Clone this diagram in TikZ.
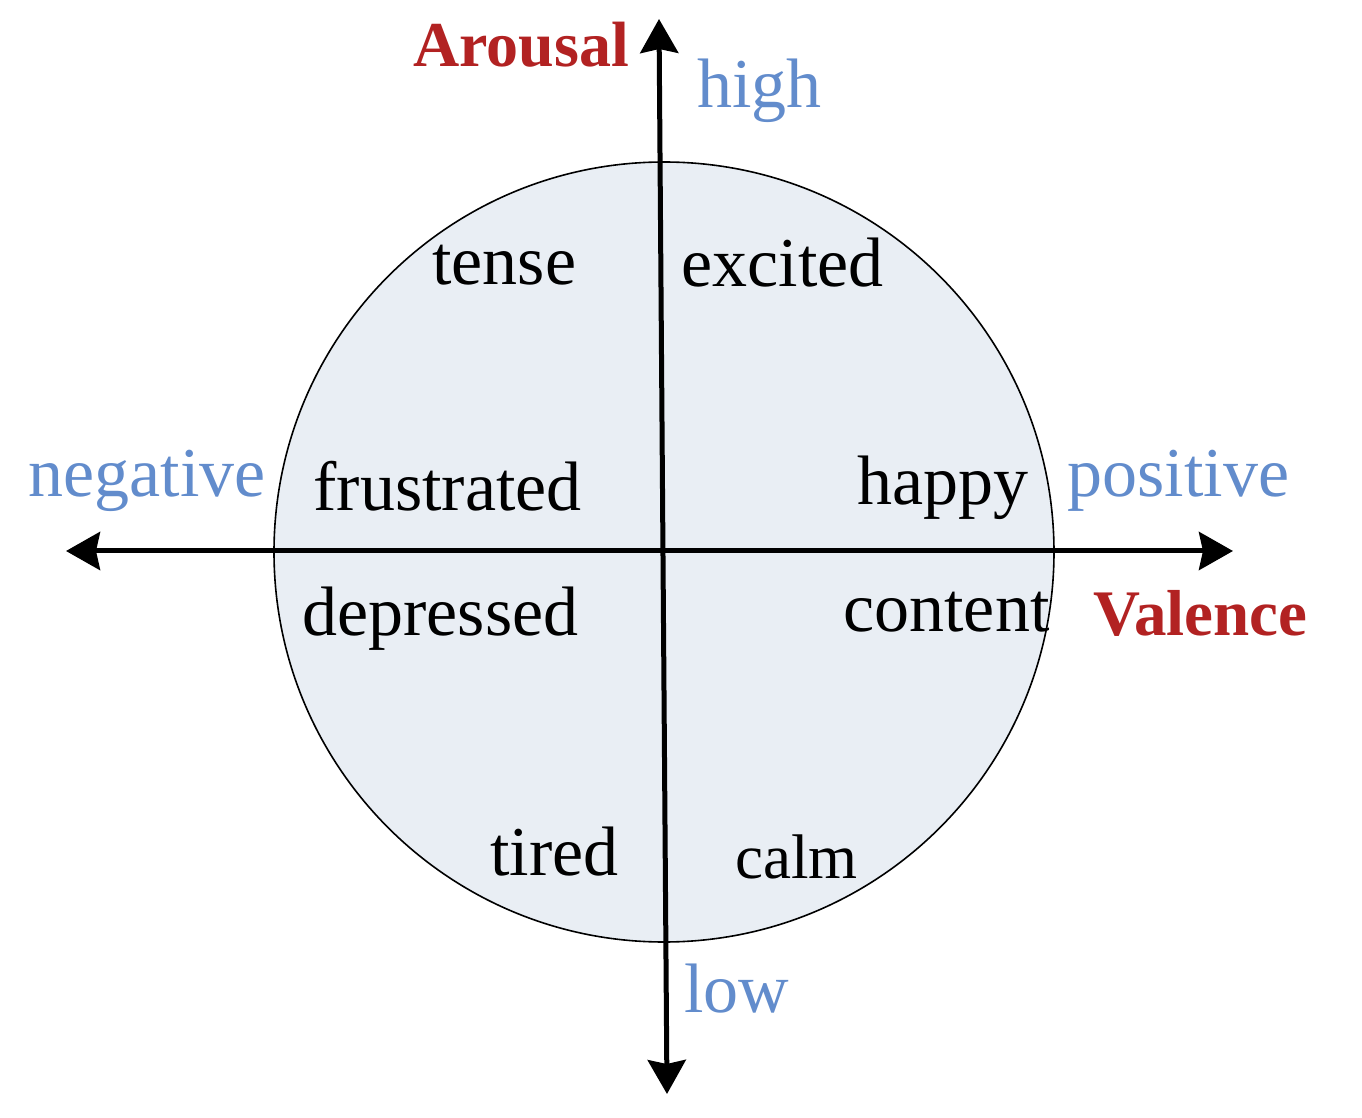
\documentclass[tikz,border=0pt]{standalone}
\usepackage{fontspec}
\setmainfont{Liberation Serif}
\usetikzlibrary{arrows.meta}
\definecolor{axred}{RGB}{178,34,34}
\definecolor{axblue}{RGB}{98,140,204}
\definecolor{circfill}{RGB}{233,238,244}
\tikzset{
  word/.style={inner sep=0pt, anchor=base west, font=\fontsize{35}{40}\selectfont},
  poleword/.style={word, text=axblue},
  axisname/.style={inner sep=0pt, anchor=base west, font=\fontsize{32}{38}\selectfont\bfseries, text=axred},
  axisline/.style={line width=2.5pt, {Stealth[length=17pt, width=19pt, inset=2pt]}-{Stealth[length=17pt, width=19pt, inset=2pt]}},
}
\begin{document}
\begin{tikzpicture}[x=0.5pt, y=-0.5pt]
\useasboundingbox (0,0) rectangle (1362,1118);
\node[circle, draw=black, line width=0.8pt, fill=circfill, minimum size=390pt, inner sep=0pt] (circ) at (664,552) {};
\coordinate (left) at (66,551);
\coordinate (right) at (1233,551);
\coordinate (top) at (659,19);
\coordinate (bottom) at (667,1094);
\draw[axisline] (left) -- (right);
\draw[axisline] (top) -- (bottom);
\node[axisname] (arousal) at (413,67) {Arousal};
\node[axisname, font=\fontsize{32.5}{38}\selectfont\bfseries] (valence) at (1093,635) {Valence};
\node[poleword] (high) at (697,108) {high};
\node[poleword] (low) at (684,1012) {low};
\node[poleword] (negative) at (28,497) {negative};
\node[poleword] (positive) at (1067,497) {positive};
\node[word] (tense) at (432,285) {tense};
\node[word] (excited) at (681,287) {excited};
\node[word] (frustrated) at (313,510) {frustrated};
\node[word] (happy) at (857,505) {happy};
\node[word] (depressed) at (302,635) {depressed};
\node[word] (content) at (843,632) {content};
\node[word] (tired) at (490,875) {tired};
\node[word, font=\fontsize{31.5}{38}\selectfont] (calm) at (735,878) {calm};
\end{tikzpicture}
\end{document}
